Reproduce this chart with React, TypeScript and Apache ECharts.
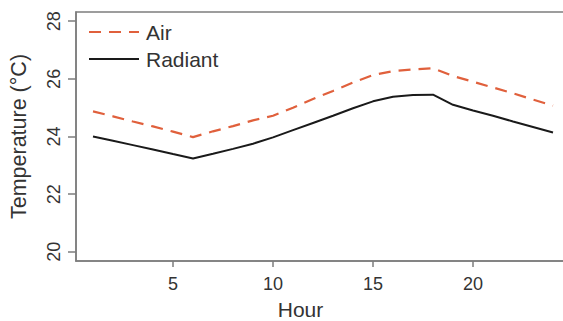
import React, { useEffect, useRef } from "react";
import * as echarts from "echarts";

const hours = [1, 2, 3, 4, 5, 6, 7, 8, 9, 10, 11, 12, 13, 14, 15, 16, 17, 18, 19, 20, 21, 22, 23, 24];
const airTemp = [24.87, 24.7, 24.52, 24.35, 24.17, 23.98, 24.18, 24.36, 24.56, 24.72, 25.0, 25.3, 25.58, 25.87, 26.13, 26.27, 26.33, 26.37, 26.1, 25.9, 25.7, 25.5, 25.28, 25.07];
const radiantTemp = [24.0, 23.85, 23.7, 23.55, 23.39, 23.24, 23.4, 23.57, 23.75, 23.97, 24.22, 24.47, 24.72, 24.98, 25.22, 25.38, 25.44, 25.45, 25.1, 24.9, 24.72, 24.52, 24.33, 24.14];
const xTicks = [5, 10, 15, 20];
const yTicks = [20, 22, 24, 26, 28];

const FONT = "'Liberation Sans', Arial, sans-serif";
const AXIS_GREY = "#7d7d7d";
const TEXT = "#333333";

export default function App() {
  const ref = useRef<HTMLDivElement>(null);
  useEffect(() => {
    if (!ref.current) return;
    const chart = echarts.init(ref.current, null, { renderer: "svg" });
    const pair = (vals: number[]) => hours.map((h, i) => [h, vals[i]]);
    chart.setOption({
      animation: false,
      backgroundColor: "#ffffff",
      textStyle: { fontFamily: FONT },
      grid: {
        left: 76,
        right: -2,
        top: 12,
        bottom: 60,
        show: true,
        borderColor: AXIS_GREY,
        borderWidth: 1.5,
        containLabel: false,
        outerBoundsMode: "none",
      },
      legend: {
        orient: "vertical",
        left: 83,
        top: 16,
        itemWidth: 50,
        itemHeight: 22,
        itemGap: 5,
        itemStyle: { opacity: 0 },
        textStyle: { fontSize: 21, color: TEXT, fontFamily: FONT, lineHeight: 22, padding: [0, 0, 0, 2] },
        data: ["Air", "Radiant"],
      },
      xAxis: {
        type: "value",
        min: 0.15,
        max: 24.6,
        name: "Hour",
        nameLocation: "middle",
        nameGap: 38,
        nameTextStyle: { fontSize: 21, color: TEXT, fontFamily: FONT, padding: [0, 40, 0, 0] },
        axisLine: { show: true, lineStyle: { color: AXIS_GREY, width: 1.5 } },
        axisTick: { show: true, length: 6, lineStyle: { color: AXIS_GREY, width: 1.5 }, customValues: xTicks },
        axisLabel: { fontSize: 18, color: TEXT, margin: 14, customValues: xTicks, fontFamily: FONT },
        splitLine: { show: false },
      },
      yAxis: {
        type: "value",
        min: 19.68,
        max: 28.32,
        name: "Temperature (°C)",
        nameLocation: "middle",
        nameGap: 46,
        nameTextStyle: { fontSize: 21.5, color: TEXT, fontFamily: FONT },
        axisLine: { show: true, lineStyle: { color: AXIS_GREY, width: 1.5 } },
        axisTick: { show: true, length: 8, lineStyle: { color: AXIS_GREY, width: 1.5 }, customValues: yTicks },
        axisLabel: { fontSize: 18, color: TEXT, margin: 13, rotate: 90, customValues: yTicks, fontFamily: FONT },
        splitLine: { show: false },
      },
      series: [
        {
          name: "Air",
          type: "line",
          data: pair(airTemp),
          symbol: "none",
          lineStyle: { color: "#e0603c", width: 2.2, type: [12, 8] },
          itemStyle: { color: "#e0603c" },
        },
        {
          name: "Radiant",
          type: "line",
          data: pair(radiantTemp),
          symbol: "none",
          lineStyle: { color: "#1a1a1a", width: 2 },
          itemStyle: { color: "#1a1a1a" },
        },
      ],
    });
    return () => chart.dispose();
  }, []);
  return (
    <div
      ref={ref}
      style={{ position: "absolute", left: 0, top: 0, width: 563, height: 321, background: "#fff" }}
    />
  );
}
